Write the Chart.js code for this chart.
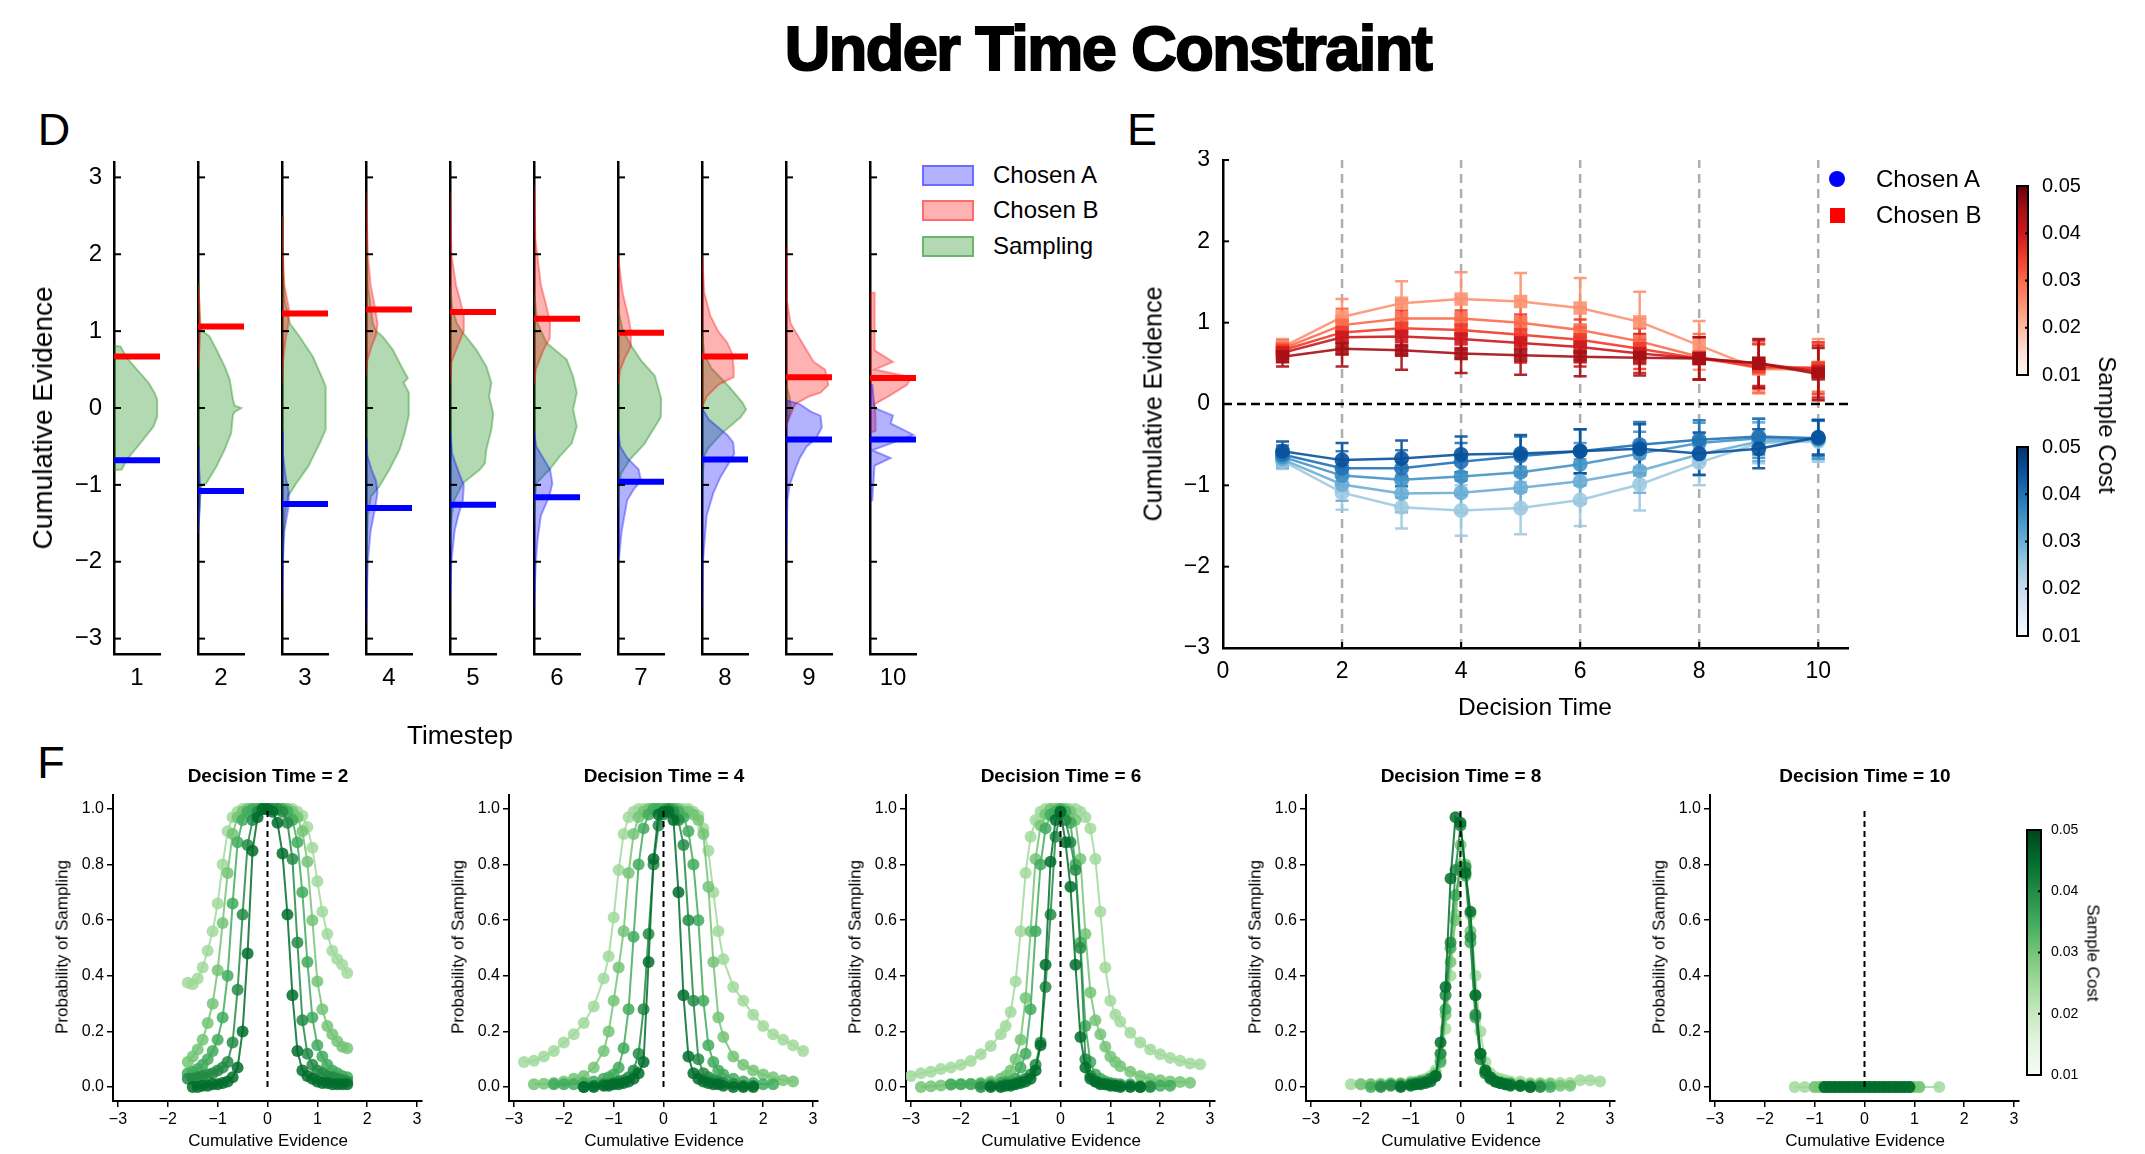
<!DOCTYPE html>
<html><head><meta charset="utf-8">
<script src="https://cdn.jsdelivr.net/npm/chart.js@4.4.1/dist/chart.umd.min.js"></script>
<style>
html,body{margin:0;padding:0;background:#fff;}
#root{position:relative;width:2145px;height:1154px;overflow:hidden;font-family:'Liberation Sans',Arial,sans-serif;color:#000;background:#fff;}
canvas{position:absolute;}
.t{position:absolute;white-space:nowrap;line-height:1;}
</style></head>
<body><div id="root"></div>
<script>
// ================= DATA =================
// Panel D : distributions of cumulative evidence per timestep
const timesteps = [1,2,3,4,5,6,7,8,9,10];
const meanChosenA = [-0.68,-1.08,-1.25,-1.30,-1.26,-1.16,-0.96,-0.67,-0.41,-0.41];
const meanChosenB = [0.67,1.06,1.23,1.28,1.25,1.16,0.98,0.67,0.40,0.39];
// [evidence, relative density] pairs, top to bottom
const densSampling = [
 [[0.81,0],[0.80,0.14],[0.77,0.17],[0.65,0.28],[0.5,0.5],[0.33,0.75],[0.2,0.88],[0.11,0.94],[-0.11,0.94],[-0.24,0.86],[-0.46,0.57],[-0.67,0.28],[-0.80,0.17],[-0.81,0]],
 [[1.63,0],[1.3,0.02],[1.1,0.05],[1.0,0.10],[0.93,0.25],[0.76,0.40],[0.54,0.58],[0.37,0.69],[0.11,0.76],[0.03,0.80],[0,0.94],[-0.05,0.80],[-0.09,0.76],[-0.33,0.72],[-0.54,0.58],[-0.76,0.40],[-0.98,0.18],[-1.02,0.07],[-1.4,0.02],[-1.63,0]],
 [[2.5,0],[1.8,0.02],[1.41,0.06],[1.1,0.17],[0.93,0.38],[0.67,0.67],[0.41,0.86],[0.28,0.95],[-0.28,0.95],[-0.46,0.82],[-0.76,0.57],[-0.98,0.31],[-1.15,0.13],[-1.41,0.06],[-1.8,0.02],[-2.06,0]],
 [[2.3,0],[1.6,0.04],[1.1,0.15],[1.0,0.22],[0.93,0.36],[0.76,0.58],[0.54,0.77],[0.39,0.91],[0.33,0.82],[0.2,0.93],[-0.1,0.93],[-0.33,0.84],[-0.54,0.73],[-0.8,0.51],[-1.02,0.29],[-1.15,0.11],[-1.4,0.04],[-2.0,0.01],[-2.3,0]],
 [[1.6,0],[1.3,0.05],[1.1,0.15],[0.98,0.28],[0.76,0.57],[0.54,0.79],[0.33,0.90],[0.15,0.85],[-0.07,0.94],[-0.28,0.90],[-0.54,0.79],[-0.72,0.76],[-0.8,0.65],[-0.98,0.28],[-1.19,0.10],[-1.4,0.04],[-1.8,0]],
 [[1.5,0],[1.1,0.08],[0.85,0.27],[0.63,0.71],[0.41,0.85],[0.2,0.93],[-0.02,0.85],[-0.24,0.93],[-0.46,0.82],[-0.63,0.56],[-0.8,0.34],[-0.98,0.05],[-1.2,0.02],[-1.5,0]],
 [[1.3,0],[1.02,0.10],[0.82,0.28],[0.62,0.50],[0.42,0.80],[0.12,0.94],[-0.12,0.93],[-0.47,0.57],[-0.67,0.26],[-0.85,0.07],[-1.0,0.02],[-1.3,0]],
 [[1.0,0],[0.7,0.05],[0.52,0.20],[0.27,0.60],[0.07,0.88],[-0.02,0.96],[-0.12,0.84],[-0.32,0.45],[-0.52,0.14],[-0.62,0.05],[-1.0,0]],
 [[0.3,0],[0.15,0.08],[0,0.1],[-0.15,0.05],[-0.25,0]],
 []
];
const densChosenB = [
 [],
 [[1.63,0],[1.3,0.04],[1.0,0.05],[0.76,0.03],[0.5,0]],
 [[2.5,0],[2.0,0.02],[1.6,0.05],[1.3,0.15],[1.1,0.14],[0.9,0.08],[0.6,0.02],[0.3,0]],
 [[2.8,0],[2.0,0.04],[1.6,0.1],[1.3,0.2],[1.1,0.25],[0.95,0.22],[0.8,0.12],[0.6,0.02],[0.4,0]],
 [[2.8,0],[2.0,0.03],[1.6,0.13],[1.4,0.22],[1.2,0.3],[1.0,0.3],[0.85,0.2],[0.6,0.03],[0.3,0]],
 [[2.9,0],[2.2,0.03],[1.6,0.15],[1.3,0.28],[1.1,0.35],[0.9,0.34],[0.75,0.2],[0.5,0.04],[0.3,0]],
 [[2.0,0],[1.5,0.1],[1.2,0.22],[1.0,0.28],[0.8,0.28],[0.65,0.15],[0.5,0.05],[0.3,0]],
 [[2.0,0],[1.5,0.05],[1.2,0.18],[1.0,0.35],[0.85,0.55],[0.7,0.66],[0.55,0.68],[0.4,0.69],[0.3,0.35],[0.15,0.1],[0,0]],
 [[2.1,0],[1.4,0.02],[1.1,0.1],[0.9,0.3],[0.6,0.6],[0.5,0.85],[0.3,0.92],[0.2,0.75],[0.15,0.5],[0.05,0.2],[-0.2,0.02],[-0.25,0]],
 [[1.5,0],[1.5,0.1],[0.75,0.1],[0.6,0.5],[0.5,0.1],[0.4,0.9],[0.3,0.8],[0.15,0.4],[0.05,0.1],[-0.1,0.12],[-0.3,0.12],[-0.32,0]]
];
const densChosenA = [
 [],
 [[-0.5,0],[-0.76,0.02],[-1.0,0.05],[-1.3,0.04],[-1.63,0]],
 [[-0.3,0],[-0.6,0.02],[-0.9,0.08],[-1.1,0.15],[-1.3,0.14],[-1.6,0.05],[-2.0,0.02],[-2.5,0]],
 [[-0.4,0],[-0.6,0.02],[-0.8,0.12],[-0.95,0.22],[-1.1,0.25],[-1.3,0.2],[-1.6,0.1],[-2.0,0.04],[-2.8,0]],
 [[-0.3,0],[-0.6,0.05],[-0.85,0.2],[-1.0,0.3],[-1.2,0.28],[-1.4,0.18],[-1.6,0.1],[-2.0,0.03],[-2.5,0]],
 [[-0.3,0],[-0.5,0.05],[-0.8,0.35],[-0.98,0.4],[-1.15,0.33],[-1.4,0.15],[-1.7,0.08],[-2.0,0.04],[-2.6,0]],
 [[-0.3,0],[-0.5,0.05],[-0.65,0.2],[-0.8,0.45],[-0.95,0.5],[-1.05,0.35],[-1.2,0.2],[-1.6,0.08],[-1.9,0.03],[-2.0,0]],
 [[0,0],[-0.15,0.15],[-0.35,0.55],[-0.45,0.68],[-0.6,0.7],[-0.75,0.55],[-0.9,0.4],[-1.1,0.25],[-1.4,0.1],[-2.0,0.02],[-2.6,0]],
 [[0.1,0],[0.05,0.3],[-0.05,0.55],[-0.1,0.75],[-0.25,0.78],[-0.4,0.65],[-0.5,0.45],[-0.65,0.3],[-0.8,0.2],[-1.0,0.08],[-1.2,0.03],[-2.0,0]],
 [[0.3,0],[0.3,0.05],[0.0,0.1],[-0.1,0.5],[-0.2,0.45],[-0.35,0.95],[-0.45,0.5],[-0.55,0.05],[-0.65,0.45],[-0.75,0.1],[-1.2,0.05],[-1.2,0]]
];
const dYTicks = [-3,-2,-1,0,1,2,3];

// Panel E : mean evidence at decision, per sample cost (0.01 .. 0.05)
const decisionTimes = [1,2,3,4,5,6,7,8,9,10];
const sampleCosts = [0.01,0.02,0.03,0.04,0.05];
const chosenBMeans = [
 [0.70,1.07,1.24,1.29,1.26,1.18,1.01,0.72,0.43,0.42],
 [0.68,0.97,1.05,1.05,1.00,0.91,0.77,0.58,0.44,0.45],
 [0.66,0.88,0.93,0.91,0.85,0.79,0.68,0.56,0.46,0.44],
 [0.63,0.82,0.83,0.80,0.75,0.70,0.62,0.56,0.50,0.40],
 [0.58,0.68,0.66,0.62,0.60,0.58,0.57,0.56,0.50,0.37]
];
const chosenBErr = [
 [0.10,0.22,0.27,0.33,0.35,0.37,0.37,0.30,0.30,0.38],
 [0.10,0.20,0.23,0.25,0.27,0.28,0.28,0.28,0.30,0.30],
 [0.10,0.20,0.22,0.24,0.25,0.25,0.25,0.26,0.28,0.32],
 [0.11,0.21,0.22,0.24,0.24,0.24,0.24,0.26,0.28,0.32],
 [0.12,0.22,0.24,0.24,0.24,0.24,0.22,0.26,0.30,0.32]
];
const chosenAMeans = [
 [-0.70,-1.09,-1.27,-1.31,-1.28,-1.18,-0.99,-0.72,-0.48,-0.46],
 [-0.68,-0.99,-1.10,-1.09,-1.03,-0.95,-0.82,-0.62,-0.46,-0.44],
 [-0.65,-0.88,-0.93,-0.89,-0.84,-0.74,-0.61,-0.48,-0.42,-0.43],
 [-0.62,-0.79,-0.79,-0.71,-0.64,-0.58,-0.50,-0.44,-0.40,-0.42],
 [-0.58,-0.69,-0.67,-0.62,-0.61,-0.58,-0.55,-0.61,-0.55,-0.41]
];
const chosenAErr = [
 [0.10,0.21,0.26,0.31,0.32,0.32,0.32,0.28,0.25,0.25],
 [0.10,0.20,0.23,0.25,0.26,0.27,0.27,0.26,0.24,0.24],
 [0.10,0.20,0.22,0.23,0.24,0.26,0.27,0.25,0.24,0.24],
 [0.11,0.21,0.22,0.23,0.24,0.27,0.28,0.24,0.22,0.22],
 [0.12,0.21,0.22,0.22,0.23,0.27,0.30,0.26,0.24,0.21]
];
const eXTicks = [0,2,4,6,8,10];
const eYTicks = [-3,-2,-1,0,1,2,3];
const guideTimes = [2,4,6,8,10];

// Panel F : probability of sampling vs cumulative evidence (one row per sample cost)
const fDecisionTimes = [2,4,6,8,10];
const F2_X = [-1.6,-1.5,-1.4,-1.3,-1.2,-1.1,-1.0,-0.9,-0.8,-0.7,-0.6,-0.5,-0.4,-0.3,-0.2,-0.1,0,0.1,0.2,0.3,0.4,0.5,0.6,0.7,0.8,0.9,1.0,1.1,1.2,1.3,1.4,1.5,1.6];
const F2_Y = [
 [0.375,0.37,0.39,0.43,0.49,0.56,0.66,0.80,0.92,0.97,0.99,1,1,1,1,1,1,1,1,1,1,1,0.99,0.975,0.935,0.86,0.74,0.63,0.55,0.49,0.46,0.44,0.41],
 [0.09,0.11,0.135,0.17,0.23,0.30,0.42,0.59,0.77,0.91,0.97,0.99,1,1,1,1,1,1,1,1,1,0.99,0.97,0.92,0.81,0.60,0.38,0.28,0.22,0.19,0.165,0.145,0.14],
 [0.05,0.055,0.065,0.08,0.10,0.13,0.17,0.25,0.40,0.66,0.88,0.96,0.99,1,1,1,1,1,1,1,0.99,0.96,0.88,0.70,0.45,0.25,0.15,0.11,0.08,0.06,0.05,0.04,0.035],
 [0.03,0.03,0.035,0.04,0.045,0.05,0.06,0.07,0.09,0.16,0.35,0.62,0.87,0.96,0.99,1,1,1,1,0.99,0.95,0.82,0.52,0.24,0.12,0.08,0.06,0.05,0.04,0.035,0.03,0.025,0.02],
 [null,0,0,0.005,0.005,0.01,0.01,0.015,0.02,0.035,0.07,0.20,0.48,0.85,0.97,1,1,0.99,0.95,0.84,0.62,0.33,0.13,0.06,0.04,0.03,0.02,0.015,0.015,0.01,0.01,0.01,0.01]
];
const F4_X = [-2.8,-2.6,-2.4,-2.2,-2.0,-1.8,-1.6,-1.4,-1.2,-1.1,-1.0,-0.9,-0.8,-0.7,-0.6,-0.5,-0.4,-0.3,-0.2,-0.1,0,0.1,0.2,0.3,0.4,0.5,0.6,0.7,0.8,0.9,1.0,1.1,1.2,1.4,1.6,1.8,2.0,2.2,2.4,2.6,2.8];
const F4_Y = [
 [0.09,0.095,0.11,0.13,0.16,0.19,0.23,0.29,0.39,0.47,0.61,0.78,0.91,0.97,0.99,1,1,1,1,1,1,1,1,1,1,1,0.99,0.975,0.93,0.85,0.70,0.56,0.46,0.36,0.31,0.26,0.22,0.19,0.17,0.15,0.13],
 [null,0.01,0.012,0.015,0.02,0.03,0.04,0.07,0.13,0.20,0.31,0.43,0.56,0.77,0.91,0.97,0.99,1,1,1,1,1,1,1,0.99,0.99,0.98,0.96,0.91,0.72,0.45,0.25,0.18,0.11,0.08,0.06,0.045,0.035,0.025,0.02,null],
 [null,null,null,0.01,0.01,0.01,0.015,0.02,0.03,0.035,0.045,0.07,0.14,0.28,0.54,0.80,0.93,0.98,1,1,1,1,1,0.99,0.97,0.92,0.80,0.60,0.31,0.15,0.09,0.06,0.045,0.03,0.02,0.015,0.01,0.01,null,null,null],
 [null,null,null,null,null,null,0,0.005,0.01,0.01,0.015,0.02,0.025,0.035,0.06,0.12,0.28,0.55,0.80,0.94,0.98,1,0.99,0.96,0.87,0.60,0.31,0.10,0.05,0.035,0.025,0.02,0.015,0.01,0.005,0.005,null,null,null,null,null],
 [null,null,null,null,null,null,0,0,0.005,0.005,0.01,0.01,0.015,0.02,0.03,0.05,0.09,0.45,0.82,0.98,0.99,0.99,0.96,0.70,0.33,0.11,0.05,0.03,0.02,0.015,0.01,0.01,0.005,0,0,0,null,null,null,null,null]
];
const F6_X = [-3.0,-2.8,-2.6,-2.4,-2.2,-2.0,-1.8,-1.6,-1.4,-1.2,-1.1,-1.0,-0.9,-0.8,-0.7,-0.6,-0.5,-0.4,-0.3,-0.2,-0.1,0,0.1,0.2,0.3,0.4,0.5,0.6,0.7,0.8,0.9,1.0,1.1,1.2,1.4,1.6,1.8,2.0,2.2,2.4,2.6,2.8];
const F6_Y = [
 [0.04,0.05,0.055,0.065,0.07,0.08,0.094,0.118,0.148,0.19,0.22,0.27,0.38,0.56,0.77,0.90,0.96,0.99,1,1,1,1,1,1,1,0.99,0.97,0.93,0.82,0.63,0.43,0.31,0.26,0.235,0.195,0.16,0.135,0.118,0.105,0.095,0.085,0.082],
 [null,0,0.003,0.006,0.008,0.01,0.012,0.015,0.02,0.03,0.04,0.06,0.10,0.17,0.32,0.56,0.82,0.94,0.98,1,1,1,1,0.99,0.96,0.82,0.55,0.34,0.24,0.19,0.145,0.11,0.09,0.075,0.055,0.04,0.03,0.025,0.02,0.018,0.016,null],
 [null,null,null,null,0.01,0.01,0.01,0.01,0.012,0.015,0.018,0.02,0.03,0.07,0.12,0.28,0.56,0.80,0.93,0.98,0.99,1,0.99,0.95,0.80,0.52,0.22,0.09,0.045,0.03,0.02,0.015,0.012,0.01,0.01,0.005,0.005,0.005,0.005,null,null,null],
 [null,null,null,null,null,null,null,0,0.005,0.005,0.01,0.01,0.015,0.02,0.03,0.045,0.08,0.16,0.36,0.62,0.90,0.99,0.96,0.88,0.78,0.50,0.10,0.04,0.02,0.015,0.01,0.01,0.005,0.005,0.005,0,0,null,null,null,null,null],
 [null,null,null,null,null,null,null,null,0,0,0.005,0.005,0.01,0.015,0.02,0.03,0.06,0.15,0.44,0.81,0.96,0.99,0.88,0.72,0.44,0.18,0.07,0.03,0.02,0.01,0.01,0.005,0.005,0,0,0,null,null,null,null,null,null]
];
const F8_X = [-2.2,-2.0,-1.8,-1.6,-1.4,-1.2,-1.0,-0.9,-0.8,-0.7,-0.6,-0.5,-0.4,-0.3,-0.2,-0.1,0,0.1,0.2,0.3,0.4,0.5,0.6,0.7,0.8,0.9,1.0,1.2,1.4,1.6,1.8,2.0,2.2,2.4,2.6,2.8];
const F8_Y = [
 [0.01,0.01,0.01,0.012,0.015,0.015,0.02,0.02,0.025,0.03,0.04,0.06,0.10,0.21,0.40,0.62,0.80,0.78,0.62,0.40,0.20,0.09,0.05,0.035,0.03,0.025,0.02,0.02,0.015,0.015,0.015,0.015,0.015,0.025,0.025,0.02],
 [null,0.01,0.01,0.01,0.01,0.012,0.015,0.015,0.02,0.025,0.03,0.05,0.12,0.26,0.45,0.60,0.87,0.80,0.56,0.33,0.12,0.06,0.035,0.025,0.02,0.015,0.015,0.01,0.01,0.01,0.01,0.005,0.005,null,null,null],
 [null,null,0,0.005,0.01,0.01,0.01,0.015,0.02,0.02,0.03,0.04,0.09,0.28,0.50,0.69,0.79,0.76,0.52,0.25,0.12,0.05,0.03,0.02,0.015,0.01,0.01,0.005,0.005,0.005,0,null,null,null,null,null],
 [null,null,null,0,0.005,0.005,0.01,0.01,0.015,0.02,0.03,0.04,0.12,0.33,0.52,0.78,0.94,0.79,0.54,0.26,0.10,0.05,0.03,0.02,0.015,0.01,0.01,0.005,0,0,null,null,null,null,null,null],
 [null,null,null,null,null,0,0.005,0.01,0.01,0.015,0.02,0.04,0.16,0.36,0.75,0.97,0.95,0.77,0.63,0.33,0.12,0.06,0.035,0.02,0.015,0.01,0.005,0.005,0,null,null,null,null,null,null,null]
];
const F10_X = [-1.4,-1.2,-1.0,-0.9,-0.8,-0.7,-0.6,-0.5,-0.4,-0.3,-0.2,-0.1,0,0.1,0.2,0.3,0.4,0.5,0.6,0.7,0.8,0.9,1.0,1.1,1.5];
const F10_Y = [
 [0,0,0,0,0,0,0,0,0,0,0,0,0,0,0,0,0,0,0,0,0,0,0,0,0],
 [null,null,0,0,0,0,0,0,0,0,0,0,0,0,0,0,0,0,0,0,0,0,0,0,null],
 [null,null,null,null,0,0,0,0,0,0,0,0,0,0,0,0,0,0,0,0,0,0,null,null,null],
 [null,null,null,null,0,0,0,0,0,0,0,0,0,0,0,0,0,0,0,0,0,0,null,null,null],
 [null,null,null,null,0,0,0,0,0,0,0,0,0,0,0,0,0,0,0,0,0,0,null,null,null]
];
const fXTicks = [-3,-2,-1,0,1,2,3];
const fYTicks = [0,0.2,0.4,0.6,0.8,1.0];

// ================= STYLE =================
const FONT = "'Liberation Sans', Arial, sans-serif";
const redCols  = ['rgba(252,146,114,0.9)','rgba(251,106,74,0.9)','rgba(239,59,44,0.9)','rgba(203,24,29,0.9)','rgba(165,15,21,0.9)'];
const blueCols = ['rgba(158,202,225,0.9)','rgba(107,174,214,0.9)','rgba(66,146,198,0.9)','rgba(33,113,181,0.9)','rgba(8,81,156,0.9)'];
const greenCols= ['rgba(161,217,155,0.85)','rgba(116,196,118,0.85)','rgba(65,171,93,0.85)','rgba(35,139,69,0.85)','rgba(0,109,44,0.85)'];
const redStops  = ['#fff5f0','#fee0d2','#fcbba1','#fc9272','#fb6a4a','#ef3b2c','#cb181d','#a50f15','#67000d'];
const blueStops = ['#f7fbff','#deebf7','#c6dbef','#9ecae1','#6baed6','#4292c6','#2171b5','#08519c','#08306b'];
const greenStops= ['#f7fcf5','#e5f5e0','#c7e9c0','#a1d99b','#74c476','#41ab5d','#238b45','#006d2c','#00441b'];

Chart.defaults.font.family = FONT;
Chart.defaults.color = '#000';

const root = document.getElementById('root');
function makeCanvas(left, top, w, h) {
  const c = document.createElement('canvas');
  c.width = w; c.height = h;
  c.style.left = left + 'px'; c.style.top = top + 'px';
  c.style.width = w + 'px'; c.style.height = h + 'px';
  root.appendChild(c);
  return c;
}
function text(str, cx, cy, size, o = {}) {
  const d = document.createElement('div');
  d.className = 't';
  d.textContent = str;
  d.style.left = cx + 'px'; d.style.top = cy + 'px';
  d.style.fontSize = size + 'px';
  if (o.bold) d.style.fontWeight = 'bold';
  if (o.css) d.style.cssText += o.css;
  const tx = o.left ? '0' : '-50%';
  d.style.transform = `translate(${tx},-50%) rotate(${o.rot || 0}deg)`;
  root.appendChild(d);
  return d;
}
const fmt = v => (v < 0 ? '\u2212' : '') + Math.abs(v);
// fixed axis sizes, no label overhang padding
const fitY = w => s => { s.width = w; s.paddingTop = 0; s.paddingBottom = 0; s.paddingLeft = 0; s.paddingRight = 0; };
const fitX = h => s => { s.height = h; s.paddingTop = 0; s.paddingBottom = 0; s.paddingLeft = 0; s.paddingRight = 0; };
function baseOpts(pad) {
  return { responsive:false, animation:false, devicePixelRatio:1, events:[],
    layout:{ padding:pad, autoPadding:false },
    plugins:{ legend:{display:false}, tooltip:{enabled:false} } };
}
function inwardTicks(cfg) {
  return { id:'inwardTicks', afterDraw(chart) {
    const ctx = chart.ctx, a = chart.chartArea;
    ctx.save(); ctx.strokeStyle = '#000'; ctx.lineWidth = cfg.w || 2;
    if (cfg.y) chart.scales.y.ticks.forEach(t => {
      const p = chart.scales.y.getPixelForValue(t.value);
      ctx.beginPath(); ctx.moveTo(a.left, p); ctx.lineTo(a.left + cfg.y, p); ctx.stroke();
    });
    if (cfg.x) chart.scales.x.ticks.forEach(t => {
      const p = chart.scales.x.getPixelForValue(t.value);
      ctx.beginPath(); ctx.moveTo(p, a.bottom); ctx.lineTo(p, a.bottom - cfg.x); ctx.stroke();
    });
    ctx.restore();
  }};
}

// ================= TITLES =================
text('Under Time Constraint', 1108, 48, 63, {bold:true, css:'letter-spacing:-1.5px;-webkit-text-stroke:2px #000;'});
text('D', 54, 129, 45);
text('E', 1142, 129, 45);
text('F', 51, 762, 45);

// ================= PANEL D =================
function densDataset(pairs, rgb, order) {
  return { data: pairs.map(p => ({x:p[1], y:p[0]})), showLine:true, fill:'shape',
    backgroundColor:`rgba(${rgb},0.3)`, borderColor:`rgba(${rgb},0.35)`, borderWidth:2,
    pointRadius:0, order };
}
function meanDataset(v, col, order) {
  return { data:[{x:0,y:v},{x:1,y:v}], showLine:true, borderColor:col, borderWidth:6,
    borderCapStyle:'butt', pointRadius:0, fill:false, order };
}
timesteps.forEach((t, i) => {
  const L = 114 + 84 * i, T = 162, W = 46, H = 492, YW = 70, PT = 10, PR = 6, XH = 45;
  const cv = makeCanvas(L - YW, T - PT, YW + W + PR, PT + H + XH);
  const ds = [ meanDataset(meanChosenB[i], '#ff0000', 0), meanDataset(meanChosenA[i], '#0000ff', 1) ];
  if (densChosenA[i].length) ds.push(densDataset(densChosenA[i], '0,0,255', 2));
  if (densChosenB[i].length) ds.push(densDataset(densChosenB[i], '255,0,0', 3));
  if (densSampling[i].length) ds.push(densDataset(densSampling[i], '0,128,0', 4));
  const opts = baseOpts({top:PT, right:PR, left:0, bottom:0});
  opts.scales = {
    x: { type:'linear', min:0, max:1, afterFit:fitX(XH),
      afterBuildTicks:s => { s.ticks = [{value:0.5}]; },
      grid:{display:false, drawTicks:false}, border:{display:true, color:'#000', width:2.5},
      ticks:{padding:10, maxRotation:0, font:{size:24}, color:'#000', callback:() => String(t)} },
    y: { type:'linear', min:-3.2, max:3.2, afterFit:fitY(YW),
      afterBuildTicks:s => { s.ticks = dYTicks.map(v => ({value:v})); },
      grid:{display:false, drawTicks:false}, border:{display:true, color:'#000', width:2.5},
      ticks:{display:i === 0, padding:12, font:{size:24}, color:'#000', callback:v => fmt(v)} }
  };
  new Chart(cv, { type:'scatter', data:{datasets:ds}, options:opts, plugins:[inwardTicks({y:7, w:2})] });
});
text('Cumulative Evidence', 43, 418, 28, {rot:-90});
text('Timestep', 460, 735, 26);
// legend D
[['Chosen A','0,0,255',175],['Chosen B','255,0,0',210],['Sampling','0,128,0',246]].forEach(([lab, rgb, cy]) => {
  const p = document.createElement('div');
  p.style.cssText = `position:absolute;left:922px;top:${cy - 10}px;width:48px;height:17px;background:rgba(${rgb},0.3);border:2px solid rgba(${rgb},0.4);`;
  root.appendChild(p);
  text(lab, 993, cy, 24, {left:true});
});

// ================= PANEL E =================
(function () {
  const L = 1223, T = 160, W = 625, H = 488, YW = 70, PT = 10, PR = 12, XH = 45;
  const cv = makeCanvas(L - YW, T - PT, YW + W + PR, PT + H + XH);
  const ds = [];
  guideTimes.forEach(v => ds.push({ data:[{x:v,y:-3},{x:v,y:3}], showLine:true, borderColor:'rgba(165,165,165,0.9)',
    borderWidth:2.5, borderDash:[9,6], pointRadius:0, order:100 }));
  const zeroIndex = ds.length;
  ds.push({ data:[{x:0,y:0},{x:10.5,y:0}], showLine:true, borderColor:'#000', borderWidth:2.5, borderDash:[9,5], pointRadius:0, order:99 });
  const groups = [];
  sampleCosts.forEach((c, k) => {
    ds.push({ data:decisionTimes.map((t, i) => ({x:t, y:chosenBMeans[k][i]})), showLine:true,
      borderColor:redCols[k], backgroundColor:redCols[k], borderWidth:2.5, pointStyle:'rect',
      pointRadius:9.5, pointBorderWidth:0, order:20 - k });
    ds.push({ data:decisionTimes.map((t, i) => ({x:t, y:chosenAMeans[k][i]})), showLine:true,
      borderColor:blueCols[k], backgroundColor:blueCols[k], borderWidth:2.5, pointStyle:'circle',
      pointRadius:7.5, pointBorderWidth:0, order:20 - k });
    groups.push({x:decisionTimes, y:chosenBMeans[k], e:chosenBErr[k], color:redCols[k]});
    groups.push({x:decisionTimes, y:chosenAMeans[k], e:chosenAErr[k], color:blueCols[k]});
  });
  const errorBars = { id:'errorBars', afterDatasetDraw(chart, args) {
    if (args.index !== zeroIndex) return;
    const xs = chart.scales.x, ys = chart.scales.y, ctx = chart.ctx;
    ctx.save(); ctx.lineWidth = 2.5;
    groups.forEach(g => {
      ctx.strokeStyle = g.color;
      g.x.forEach((xv, i) => {
        const px = xs.getPixelForValue(xv);
        const top = ys.getPixelForValue(g.y[i] + g.e[i]);
        const bot = ys.getPixelForValue(g.y[i] - g.e[i]);
        ctx.beginPath();
        ctx.moveTo(px, top); ctx.lineTo(px, bot);
        ctx.moveTo(px - 6.5, top); ctx.lineTo(px + 6.5, top);
        ctx.moveTo(px - 6.5, bot); ctx.lineTo(px + 6.5, bot);
        ctx.stroke();
      });
    });
    ctx.restore();
  }};
  const opts = baseOpts({top:PT, right:PR, left:0, bottom:0});
  opts.scales = {
    x: { type:'linear', min:0, max:10.5, afterFit:fitX(XH),
      afterBuildTicks:s => { s.ticks = eXTicks.map(v => ({value:v})); },
      grid:{display:false, drawTicks:false}, border:{display:true, color:'#000', width:2.5},
      ticks:{padding:10, maxRotation:0, font:{size:23}, color:'#000', callback:v => fmt(v)} },
    y: { type:'linear', min:-3, max:3, afterFit:fitY(YW),
      afterBuildTicks:s => { s.ticks = eYTicks.map(v => ({value:v})); },
      grid:{display:false, drawTicks:false}, border:{display:true, color:'#000', width:2.5},
      ticks:{padding:13, font:{size:23}, color:'#000', callback:v => fmt(v)} }
  };
  new Chart(cv, { type:'scatter', data:{datasets:ds}, options:opts, plugins:[errorBars, inwardTicks({y:6, x:6, w:2})] });
})();
text('Cumulative Evidence', 1153, 404, 25, {rot:-90});
text('Decision Time', 1535, 707, 24.5);
// legend E
(function () {
  const c = document.createElement('div');
  c.style.cssText = 'position:absolute;left:1829px;top:171px;width:16px;height:16px;border-radius:50%;background:#0000ff;';
  root.appendChild(c);
  const s = document.createElement('div');
  s.style.cssText = 'position:absolute;left:1830px;top:208px;width:15px;height:15px;background:#ff0000;';
  root.appendChild(s);
  text('Chosen A', 1876, 179, 24, {left:true});
  text('Chosen B', 1876, 215, 24, {left:true});
})();

// ================= COLORBARS =================
function colorbar(left, top, w, h, stops, fontSize, pad) {
  const YW = 80, PT = 14;
  const cv = makeCanvas(left, top - PT, w + YW, h + 2 * PT);
  const grad = { id:'grad', beforeDatasetsDraw(chart) {
    const a = chart.chartArea, ctx = chart.ctx;
    const g = ctx.createLinearGradient(0, a.bottom, 0, a.top);
    stops.forEach((c, i) => g.addColorStop(i / (stops.length - 1), c));
    ctx.save();
    ctx.fillStyle = g; ctx.fillRect(a.left, a.top, a.right - a.left, a.bottom - a.top);
    ctx.strokeStyle = '#000'; ctx.lineWidth = 2;
    ctx.strokeRect(a.left + 1, a.top, a.right - a.left - 2, a.bottom - a.top);
    const ys = chart.scales.y;
    ys.ticks.forEach(t => {
      const p = ys.getPixelForValue(t.value);
      ctx.beginPath(); ctx.moveTo(a.right, p); ctx.lineTo(a.right - 4, p); ctx.stroke();
    });
    ctx.restore();
  }};
  const opts = baseOpts({top:PT, bottom:PT, left:0, right:0});
  opts.scales = {
    x: { type:'linear', display:false, min:0, max:1 },
    y: { type:'linear', position:'right', min:0.01, max:0.05, afterFit:fitY(YW),
      afterBuildTicks:s => { s.ticks = sampleCosts.map(v => ({value:v})); },
      grid:{display:false, drawTicks:false}, border:{display:false},
      ticks:{padding:pad, font:{size:fontSize}, color:'#000', callback:v => v.toFixed(2)} }
  };
  new Chart(cv, { type:'scatter', data:{datasets:[]}, options:opts, plugins:[grad] });
}
colorbar(2016, 186, 13, 189, redStops, 20, 13);
colorbar(2016, 447, 13, 189, blueStops, 20, 13);
text('Sample Cost', 2107, 425, 24, {rot:90});
colorbar(2026, 830, 16, 245, greenStops, 14, 9);
text('Sample Cost', 2093, 953, 17, {rot:90});

// ================= PANEL F =================
const fGrids = [[F2_X,F2_Y],[F4_X,F4_Y],[F6_X,F6_Y],[F8_X,F8_Y],[F10_X,F10_Y]];
const fLefts = [113, 509, 906, 1306, 1710];
fDecisionTimes.forEach((dt, j) => {
  const L = fLefts[j], T = 795, W = 309, H = 306, YW = 60, PT = 10, PR = 10, XH = 36;
  const cv = makeCanvas(L - YW, T - PT, YW + W + PR, PT + H + XH);
  const [gx, gy] = fGrids[j];
  const ds = [{ data:[{x:0,y:0},{x:0,y:1}], showLine:true, borderColor:'#000', borderWidth:2, borderDash:[6,4], pointRadius:0, order:0 }];
  gy.forEach((ys, k) => {
    ds.push({ data: gx.map((x, i) => ({x, y:ys[i]})).filter(p => p.y !== null), showLine:true,
      borderColor:greenCols[k], backgroundColor:greenCols[k], borderWidth:2, pointRadius:6,
      pointBorderWidth:0, order:10 - k });
  });
  const opts = baseOpts({top:PT, right:PR, left:0, bottom:0});
  opts.scales = {
    x: { type:'linear', min:-3.1, max:3.1, afterFit:fitX(XH),
      afterBuildTicks:s => { s.ticks = fXTicks.map(v => ({value:v})); },
      grid:{display:true, drawOnChartArea:false, drawTicks:true, tickLength:6, color:'#000', lineWidth:1.5},
      border:{display:true, color:'#000', width:2},
      ticks:{padding:3, maxRotation:0, autoSkip:false, font:{size:16}, color:'#000', callback:v => fmt(v)} },
    y: { type:'linear', min:-0.05, max:1.05, afterFit:fitY(YW),
      afterBuildTicks:s => { s.ticks = fYTicks.map(v => ({value:v})); },
      grid:{display:true, drawOnChartArea:false, drawTicks:true, tickLength:6, color:'#000', lineWidth:1.5},
      border:{display:true, color:'#000', width:2},
      ticks:{padding:3, font:{size:16}, color:'#000', callback:v => v.toFixed(1)} }
  };
  new Chart(cv, { type:'scatter', data:{datasets:ds}, options:opts });
  text('Decision Time = ' + dt, L + 155, 775, 19, {bold:true});
  text('Probability of Sampling', L - 51, 947, 17, {rot:-90});
  text('Cumulative Evidence', L + 155, 1140, 17);
});
</script>
</body></html>
